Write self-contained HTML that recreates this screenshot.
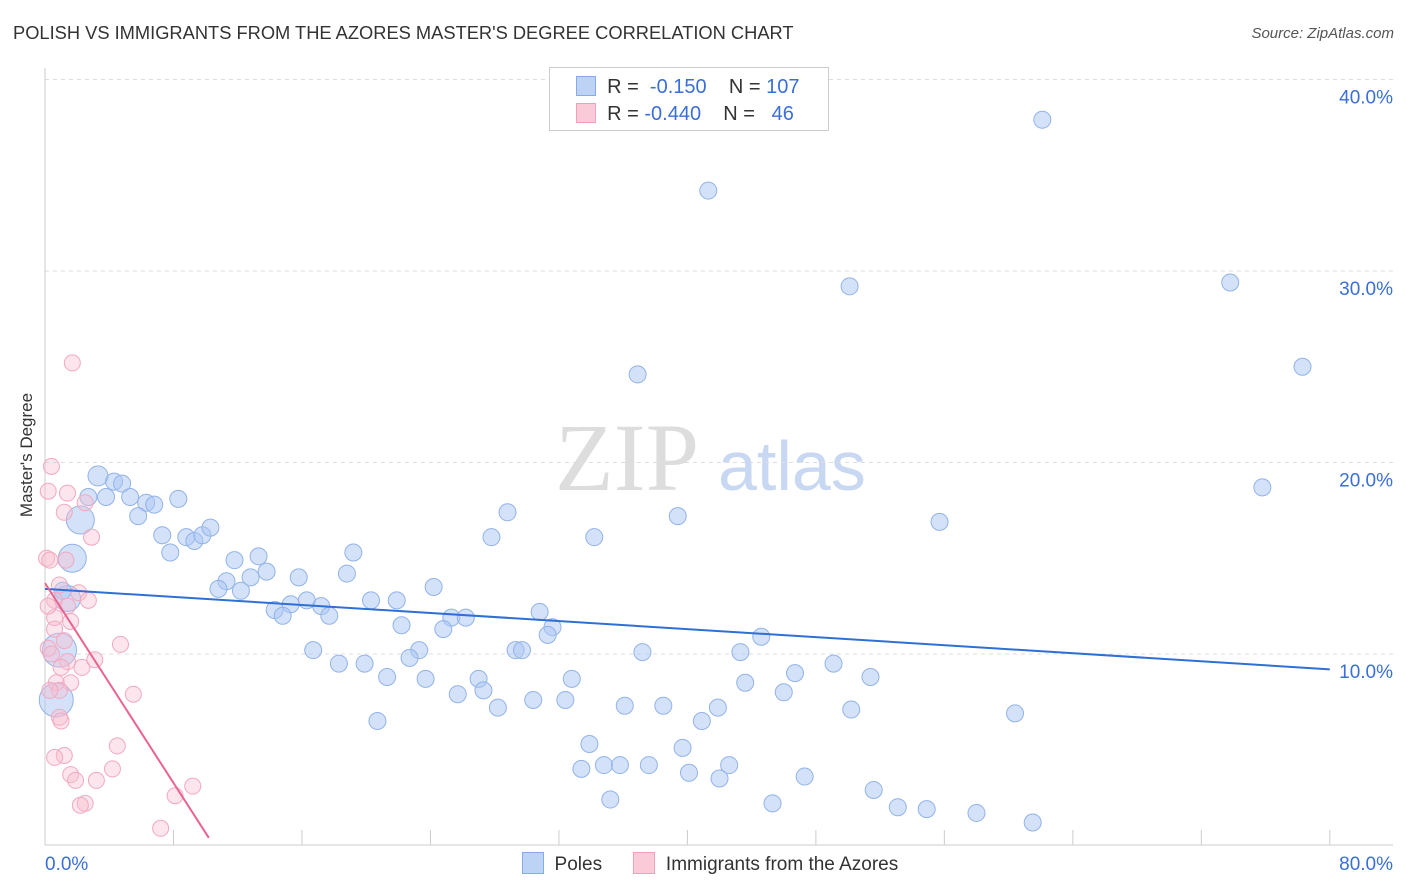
<!DOCTYPE html>
<html><head><meta charset="utf-8"><style>
body{margin:0;background:#fff;font-family:"Liberation Sans",sans-serif;}
#wrap{position:relative;width:1406px;height:892px;overflow:hidden;}
.t{position:absolute;white-space:nowrap;}
</style></head><body>
<div id="wrap">
<div class="t" style="left:13px;top:22px;font-size:18.3px;color:#333;">POLISH VS IMMIGRANTS FROM THE AZORES MASTER'S DEGREE CORRELATION CHART</div>
<div class="t" style="right:12px;top:25px;font-size:15px;color:#555;font-style:italic;">Source: ZipAtlas.com</div>
<div class="t" style="left:-35px;top:445px;font-size:17px;color:#333;transform:rotate(-90deg);">Master's Degree</div>
<svg id="svg" width="1406" height="892" style="position:absolute;left:0;top:0"></svg>
</div>
<script>
const blueX=[62.1,41.3,50.1,73.8,78.3,36.9,75.8,55.7,39.4,28.8,34.2,27.8,3.3,4.3,4.8,2.7,3.8,5.3,6.3,6.8,8.3,5.8,2.2,1.7,7.3,7.8,8.8,9.3,9.8,10.3,11.8,13.3,13.8,12.8,11.3,10.8,12.2,15.8,19.2,18.8,24.2,20.3,21.9,16.3,15.3,14.3,14.8,17.2,17.7,30.8,25.3,26.2,22.2,24.8,31.6,31.3,44.6,16.7,23.3,22.7,29.3,29.7,37.2,43.3,18.3,19.9,49.1,21.3,23.7,27.0,32.8,46.7,51.4,25.7,27.3,43.6,30.4,32.4,46.0,36.1,38.5,28.2,41.9,50.2,60.4,40.9,20.7,33.9,39.7,33.4,34.8,35.8,37.6,42.6,40.1,42.0,47.3,35.2,45.3,51.6,53.1,54.9,58.0,61.5,0.7,0.9,1.4,1.1];
const blueY=[37.9,34.2,29.2,29.4,25.0,24.6,18.7,16.9,17.2,17.4,16.1,16.1,19.3,19.0,18.9,18.2,18.2,18.2,17.9,17.8,18.1,17.2,17.0,15.0,16.2,15.3,16.1,15.9,16.2,16.6,14.9,15.1,14.3,14.0,13.8,13.4,13.3,14.0,15.3,14.2,13.5,12.8,12.8,12.8,12.6,12.3,12.0,12.5,12.0,12.2,11.9,11.9,11.5,11.3,11.4,11.0,10.9,10.2,10.2,9.8,10.2,10.2,10.1,10.1,9.5,9.5,9.5,8.8,8.7,8.7,8.7,9.0,8.8,7.9,8.1,8.5,7.6,7.6,8.0,7.3,7.3,7.2,7.2,7.1,6.9,6.5,6.5,5.3,5.1,4.0,4.2,4.2,4.2,4.2,3.8,3.5,3.6,2.4,2.2,2.9,2.0,1.9,1.7,1.2,7.6,10.2,12.9,13.3];
const blueBig={0:0,12:10,22:14,23:14,104:17,105:17,106:13};
const pinkX=[1.7,0.4,0.2,1.4,1.2,2.5,2.9,0.1,0.3,1.3,0.9,0.6,2.1,2.7,1.4,0.6,1.6,4.7,0.2,0.4,1.4,2.3,1.0,0.7,1.6,0.9,5.5,0.9,1.0,4.5,1.2,0.6,4.2,1.6,1.9,3.2,9.2,8.1,2.5,2.2,7.2,0.6,1.2,0.2,3.1,0.3];
const pinkY=[25.2,19.8,18.5,18.4,17.4,17.9,16.1,15.0,14.9,14.9,13.6,12.8,13.2,12.8,12.5,11.9,11.7,10.5,10.3,10.0,9.6,9.3,9.3,8.5,8.5,8.1,7.9,6.7,6.5,5.2,4.7,4.6,4.0,3.7,3.4,3.4,3.1,2.6,2.2,2.1,0.9,11.3,10.7,12.5,9.7,8.1];
const blueTrend=[[0,13.4],[80,9.2]];
const pinkTrend=[[0,13.7],[10.2,0.4]];
const yTicks=[10,20,30,40];
const yTickLabels=["10.0%","20.0%","30.0%","40.0%"];
const xTicks=[0,8,16,24,32,40,48,56,64,72,80];

const X=v=>45+v*16.06, Y=v=>845.5-v*19.15;
const NS="http://www.w3.org/2000/svg", svg=document.getElementById('svg');
function mk(t,a,p){const e=document.createElementNS(NS,t);for(const k in a)e.setAttribute(k,a[k]);(p||svg).appendChild(e);return e;}
let w=mk('text',{x:555,y:490,'font-family':'Liberation Serif,serif','font-size':96,fill:'#ddd'});w.textContent='ZIP';


w=mk('text',{x:718,y:490,'font-family':'Liberation Sans,sans-serif','font-size':70,fill:'#c8d8f2'});w.textContent='atlas';


yTicks.forEach((v,i)=>{
 const g=mk('line',{x1:45,x2:1393,y1:Y(v),y2:Y(v),stroke:'#ddd','stroke-dasharray':'4,4'});
 
 
 const t=mk('text',{x:1393,y:Y(v)+24,'text-anchor':'end','font-size':19,fill:'#3a6fd8','font-family':'Liberation Sans,sans-serif'});
 t.textContent=yTickLabels[i];
 
 
});
let ax=mk('line',{x1:45,x2:45,y1:68,y2:845,stroke:'#ccc'});


ax=mk('line',{x1:45,x2:1393,y1:845,y2:845,stroke:'#ccc'});


xTicks.forEach(v=>{const l=mk('line',{x1:X(v),x2:X(v),y1:830,y2:845,stroke:'#ccc'});
 
 });
[[0,'0.0%','start',45],[80,'80.0%','end',1393]].forEach(d=>{
 const t=mk('text',{x:d[3],y:870,'text-anchor':d[2],'font-size':19,fill:'#3a6fd8','font-family':'Liberation Sans,sans-serif'});t.textContent=d[1];
 
 
});
blueX.forEach((v,i)=>{
 const r=blueBig[i]!==undefined&&blueBig[i]>0?blueBig[i]:8.5;
 const c=mk('circle',{cx:X(v),cy:Y(blueY[i]),r:r,fill:'rgba(170,198,244,0.5)',stroke:'#92b3e8','stroke-width':1});
 
 
});
pinkX.forEach((v,i)=>{
 const c=mk('circle',{cx:X(v),cy:Y(pinkY[i]),r:8,fill:'rgba(248,190,208,0.4)',stroke:'#f2a8c0','stroke-width':1});
 
 
});
let tl=mk('line',{x1:X(blueTrend[0][0]),y1:Y(blueTrend[0][1]),x2:X(blueTrend[1][0]),y2:Y(blueTrend[1][1]),stroke:'#2f6fd6','stroke-width':2});


tl=mk('line',{x1:X(pinkTrend[0][0]),y1:Y(pinkTrend[0][1]),x2:X(pinkTrend[1][0]),y2:Y(pinkTrend[1][1]),stroke:'#e8648e','stroke-width':2});


</script>
<div class="t" style="left:549px;top:67px;width:278px;height:62px;border:1px solid #ccc;background:#fff;font-size:20px;color:#333;">
 <div style="position:absolute;left:26px;top:8px;"><span style="display:inline-block;width:18px;height:18px;background:#bcd3f5;border:1px solid #86abe6;vertical-align:-3px;"></span>&nbsp; R = &nbsp;<span style="color:#3a6fd8">-0.150</span>&nbsp;&nbsp;&nbsp; N = <span style="color:#3a6fd8">107</span></div>
 <div style="position:absolute;left:26px;top:35px;"><span style="display:inline-block;width:18px;height:18px;background:#fbcad9;border:1px solid #f0a0ba;vertical-align:-3px;"></span>&nbsp; R = <span style="color:#3a6fd8">-0.440</span>&nbsp;&nbsp;&nbsp; N = &nbsp;&nbsp;<span style="color:#3a6fd8">46</span></div>
</div>
<div class="t" style="left:522px;top:852px;font-size:19px;color:#333;">
 <span><span style="display:inline-block;width:20px;height:20px;background:#bcd3f5;border:1px solid #86abe6;vertical-align:-4px;"></span>&nbsp; Poles</span>
 <span style="margin-left:26px;"><span style="display:inline-block;width:20px;height:20px;background:#fbcad9;border:1px solid #f0a0ba;vertical-align:-4px;"></span>&nbsp; Immigrants from the Azores</span>
</div>
</body></html>
